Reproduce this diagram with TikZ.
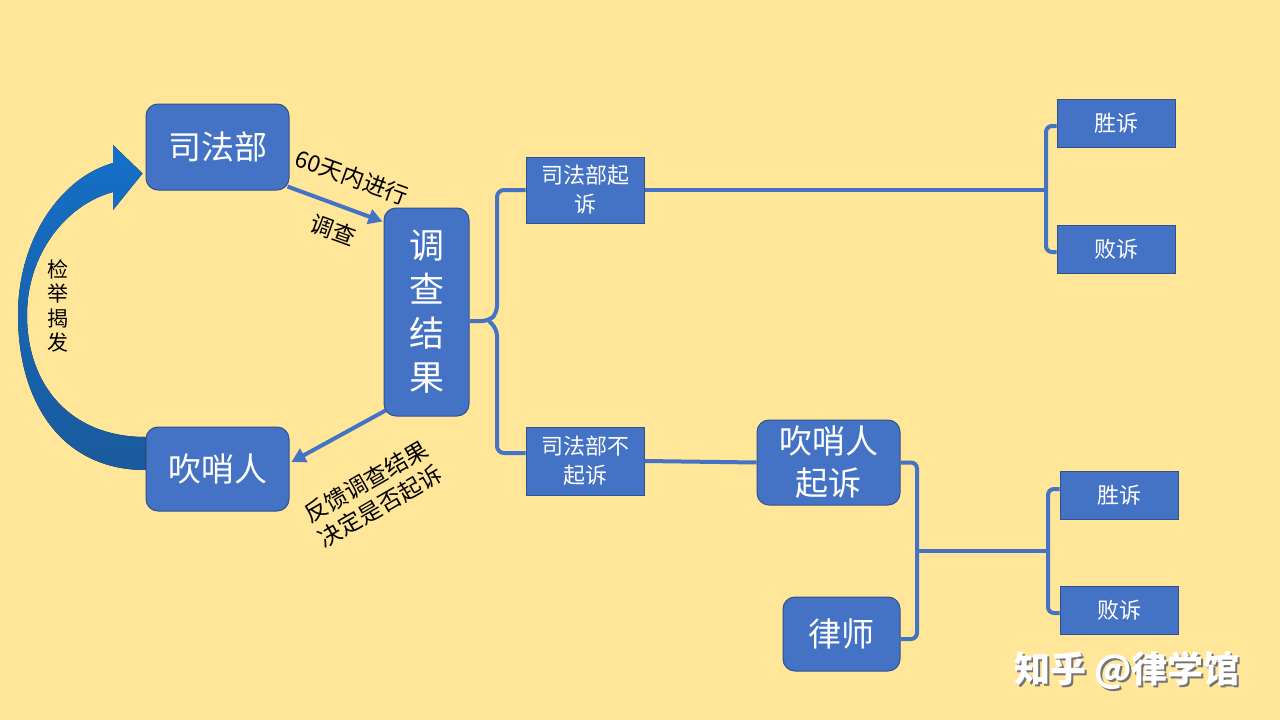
\documentclass[tikz,border=0pt]{standalone}
\usepackage{fontspec}
\setmainfont{Noto Sans CJK SC}
\usetikzlibrary{arrows.meta,calc}
\definecolor{bg}{HTML}{FFE699}
\definecolor{boxblue}{HTML}{4472C4}
\definecolor{boxedge}{HTML}{2F528F}
\definecolor{arrtop}{HTML}{1470C8}
\definecolor{arrbot}{HTML}{1A5A9C}
\begin{document}
\begin{tikzpicture}[x=1pt,y=-1pt,
  rbox/.style={draw=boxedge,line width=1pt,fill=boxblue,rounded corners=12pt,text=white,align=center,inner sep=0pt},
  sbox/.style={draw=boxedge,line width=1pt,fill=boxblue,text=white,align=center,inner sep=0pt},
  conn/.style={draw=boxblue,line width=4pt},
  arr/.style={conn,-{Triangle[length=14pt,width=15pt]}},
  lbl/.style={text=black,font=\fontsize{23}{28}\selectfont,align=center,inner sep=0pt},
  big/.style={font=\fontsize{33}{42}\selectfont},
  small/.style={font=\fontsize{22}{29}\selectfont},
]
\fill[bg] (0,0) rectangle (1280,720);
\useasboundingbox (0,0) rectangle (1280,720);

% main nodes
\node[rbox,big,minimum width=143pt,minimum height=86pt] (sfb) at (217.5,147) {司法部};
\node[rbox,big,minimum width=143pt,minimum height=84pt] (csr) at (217.5,469) {吹哨人};
\node[rbox,font=\fontsize{35}{44}\selectfont,minimum width=85pt,minimum height=208pt] (dc) at (426.5,312) {调\\查\\结\\果};
\node[sbox,small,minimum width=118pt,minimum height=66pt] (s1) at (585,190) {司法部起\\诉};
\node[sbox,small,minimum width=118pt,minimum height=68pt] (s2) at (585,461) {司法部不\\起诉};
\node[rbox,big,minimum width=143pt,minimum height=85pt] (ws) at (828.5,462.5) {吹哨人\\起诉};
\node[rbox,big,minimum width=117pt,minimum height=74pt] (ls) at (841.5,634) {律师};
\node[sbox,small,minimum width=118pt,minimum height=48pt] (w1) at (1116,123) {胜诉};
\node[sbox,small,minimum width=118pt,minimum height=48pt] (l1) at (1116,249) {败诉};
\node[sbox,small,minimum width=118pt,minimum height=48pt] (w2) at (1119,495) {胜诉};
\node[sbox,small,minimum width=118pt,minimum height=48pt] (l2) at (1119,610) {败诉};

% big curved arrow
\fill[top color=arrtop,bottom color=arrbot]
  ($(csr.west)+(0,1)$) .. controls (60,470) and (18,400) .. (18,315)
  .. controls (18,240) and (60,178) .. (113,163) -- (113,145)
  -- ($(sfb.south west)+(-3,-17)$) -- (113,210) -- (113,192)
  .. controls (65,205) and (27,255) .. (27,315)
  .. controls (27,385) and (70,437) .. ($(csr.west)+(0,-32)$) -- cycle;
\node[lbl,font=\fontsize{21}{24.5}\selectfont] (t4) at (58,306) {检\\举\\揭\\发};

% straight arrows
\draw[arr] ($(sfb.south east)+(-2,-4)$) -- ($(dc.north west)+(-1,14)$);
\draw[arr] ($(dc.south west)+(2,-6)$) -- ($(csr.east)+(2,-7)$);
\node[lbl,rotate=-20] (t1) at (352,177) {60天内进行};
\node[lbl,rotate=-20] (t2) at (333,230) {调查};
\node[lbl,rotate=30] (t3) at (373,494) {反馈调查结果\\决定是否起诉};

% bracket from 调查结果
\coordinate (bx) at (497,321);
\draw[conn,rounded corners=7pt] (s1.west) -| ($(bx)+(0,-8)$) -- ($(bx)+(-8,0)$) -- (dc.east |- bx);
\draw[conn,rounded corners=7pt] ($(s2.west)+(0,-8)$) -| ($(bx)+(0,8)$) -- ($(bx)+(-8,0)$);

% top right bracket
\coordinate (b2) at (1046,190);
\draw[conn] (s1.east) -- (b2);
\draw[conn,rounded corners=6pt] ($(w1.west)+(0,3)$) -| (b2) |- ($(l1.west)+(0,3)$);

% bottom branch
\draw[conn] (s2.east) -- (ws.west);
\coordinate (b3) at (917,551);
\coordinate (b4) at (1048,551);
\draw[conn,rounded corners=6pt] (ws.east) -| (b3) |- ($(ls.east)+(0,5)$);
\draw[conn] (b3) -- (b4);
\draw[conn,rounded corners=6pt] ($(w2.west)+(0,-6)$) -| (b4) |- ($(l2.west)+(0,3)$);

% watermark
\node[font=\bfseries\fontsize{36}{40}\selectfont,text=black!55,inner sep=0pt] (wm0) at (1129,673) {知乎 @律学馆};
\node[font=\bfseries\fontsize{36}{40}\selectfont,text=white,inner sep=0pt] (wm) at (1127,671) {知乎 @律学馆};
\end{tikzpicture}
\end{document}
